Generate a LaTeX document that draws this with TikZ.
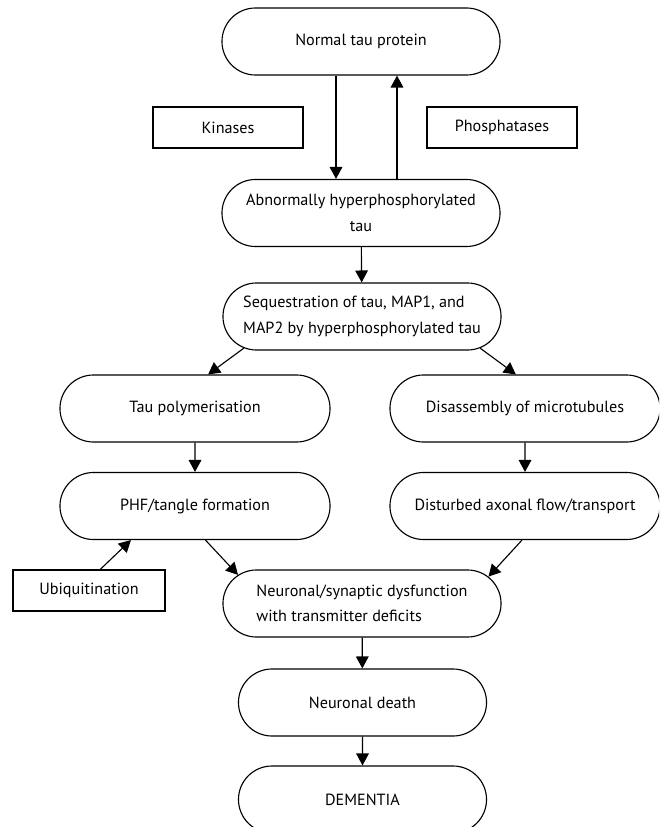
\documentclass[tikz,border=0pt]{standalone}
\usepackage{fontspec}
\setmainfont{PT Sans}
\usepackage{tikz}
\usetikzlibrary{%
  arrows.meta,%
  shapes.misc,%
  calc
}

\begin{document}
\begin{tikzpicture}[x=0.025cm,y=-0.025cm,
    stadium/.style={draw=black,line width=0.8pt,rounded rectangle,
      minimum width=6.95cm,minimum height=1.675cm,inner sep=0pt,
      font=\fontsize{11.5}{18}\selectfont},
    sidebox/.style={draw=black,line width=0.8pt,rectangle,
      minimum width=3.75cm,minimum height=1.025cm,inner sep=0pt,
      font=\fontsize{11.5}{18}\selectfont},
    flow/.style={line width=0.8pt,-{Triangle[length=8.5pt,width=9pt]}}]
      \useasboundingbox (0,0) rectangle (659,827);
      \clip (0,0) rectangle (659,827);
      % top of the chain
      \node [stadium] (normal) at (361,41.5) {Normal tau protein};
      \node [sidebox] (kinases) at (228,127.5) {Kinases};
      \node [sidebox] (phosph) at (502,127.5) {Phosphatases};
      \node [stadium,align=center] (abnormal) at (361,213) {Abnormally hyperphosphorylated\\tau};
      \node [stadium,align=left] (seq) at (362,316.5) {Sequestration of tau, MAP1, and\\MAP2 by hyperphosphorylated tau};
      % two branches
      \node [stadium,minimum width=6.75cm] (poly) at (195,408.5) {Tau polymerisation};
      \node [stadium,minimum width=6.75cm] (disasm) at (525,408.5) {Disassembly of microtubules};
      \node [stadium,minimum width=6.75cm] (phf) at (195,506) {PHF/tangle formation};
      \node [stadium,minimum width=6.75cm] (axonal) at (525,506) {Disturbed axonal flow/transport};
      \node [sidebox,minimum width=3.8cm] (ubiq) at (89,590.5) {Ubiquitination};
      % bottom of the chain
      \node [stadium,align=left] (neuro) at (362,603.5) {Neuronal/synaptic dysfunction\\with transmitter deficits};
      \node [stadium,minimum width=6.2cm] (death) at (362.5,702.5) {Neuronal death};
      \node [stadium,minimum width=6.2cm] (dementia) at (362.5,799.5) {DEMENTIA};

      \draw [flow] ($(normal.south)+(-25,0)$) -- ($(abnormal.north)+(-25,0)$);
      \draw [flow] ($(abnormal.north)+(36,0)$) -- ($(normal.south)+(36,0)$);
      \draw [flow] (abnormal) -- (seq);
      \draw [flow] (seq.195.7) -- (poly.69);
      \draw [flow] (seq.-15.4) -- (disasm.105);
      \draw [flow] (poly) -- (phf);
      \draw [flow] (disasm) -- (axonal);
      \draw [flow] (ubiq.62) -- (phf.208);
      \draw [flow] (phf.-73.6) -- (neuro.167);
      \draw [flow] (axonal.-95) -- (neuro.12.5);
      \draw [flow] (neuro) -- (death);
      \draw [flow] (death) -- (dementia);
    \end{tikzpicture}
\end{document}
